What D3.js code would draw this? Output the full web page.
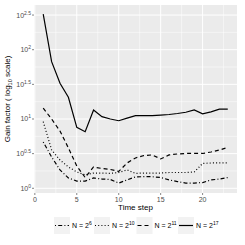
<!DOCTYPE html>
<html>
<head>
<meta charset="utf-8">
<script src="https://cdn.jsdelivr.net/npm/d3@7"></script>
<style>
  html, body { margin: 0; padding: 0; background: #fff; }
  svg { display: block; font-family: "Liberation Sans", Arial, sans-serif; }
</style>
</head>
<body>
<div id="chart"></div>
<script>
"use strict";

// time steps 1..23
const steps = d3.range(1, 24);

// gain factors (log scale)
const gainN6  = [4.66, 2.83, 1.84, 1.41, 1.27, 1.27, 1.41, 1.36, 1.34, 1.19, 1.32, 1.46,
                 1.47, 1.47, 1.43, 1.32, 1.25, 1.19, 1.19, 1.21, 1.32, 1.36, 1.43];
const gainN10 = [9.14, 3.57, 2.56, 2.03, 1.72, 1.56, 1.66, 1.66, 1.64, 1.69, 1.84, 1.64,
                 1.66, 1.66, 1.66, 1.69, 1.69, 1.69, 1.72, 2.28, 2.32, 2.32, 2.32];
const gainN11 = [14.3, 10.0, 6.7, 3.82, 2.10, 1.43, 2.03, 1.93, 1.87, 1.75, 2.32, 2.74,
                 2.97, 3.03, 2.65, 3.03, 3.13, 3.18, 3.18, 3.18, 3.34, 3.57, 3.88];
const gainN17 = [327, 67.1, 32.7, 20.6, 7.59, 6.56, 13.5, 10.8, 10.0, 9.44, 10.3, 11.2,
                 11.2, 11.2, 11.4, 11.6, 12.0, 12.5, 13.5, 11.9, 12.7, 13.9, 13.9];

const seriesExp  = ["6", "10", "11", "17"];
const seriesData = [gainN6, gainN10, gainN11, gainN17];
const dashes     = ["1,2.2,4,2.2", "1,2.2", "4,3", null];

const xTicks = [0, 5, 10, 15, 20];
const yTickExp = [0, 0.5, 1, 1.5, 2, 2.5];

const W = 245, H = 245;
const panel = { left: 34, right: 237, top: 5, bottom: 193 };

const x = d3.scaleLinear().domain([-0.1, 24.1]).range([panel.left, panel.right]);
const y = d3.scaleLog().domain([Math.pow(10, -0.068), Math.pow(10, 2.645)]).range([panel.bottom, panel.top]);

const svg = d3.select("#chart").append("svg")
  .attr("width", W).attr("height", H);

svg.append("rect")
  .attr("x", panel.left).attr("y", panel.top)
  .attr("width", panel.right - panel.left)
  .attr("height", panel.bottom - panel.top)
  .attr("fill", "#EBEBEB");

// minor grid
const grid = svg.append("g");
[2.5, 7.5, 12.5, 17.5, 22.5].forEach((v) => {
  grid.append("line")
    .attr("x1", x(v)).attr("x2", x(v))
    .attr("y1", panel.top).attr("y2", panel.bottom)
    .attr("stroke", "#fff").attr("stroke-width", 0.5);
});
[0.25, 0.75, 1.25, 1.75, 2.25].forEach((e) => {
  grid.append("line")
    .attr("x1", panel.left).attr("x2", panel.right)
    .attr("y1", y(Math.pow(10, e))).attr("y2", y(Math.pow(10, e)))
    .attr("stroke", "#fff").attr("stroke-width", 0.5);
});
// major grid
xTicks.forEach((v) => {
  grid.append("line")
    .attr("x1", x(v)).attr("x2", x(v))
    .attr("y1", panel.top).attr("y2", panel.bottom)
    .attr("stroke", "#fff").attr("stroke-width", 1);
});
yTickExp.forEach((e) => {
  grid.append("line")
    .attr("x1", panel.left).attr("x2", panel.right)
    .attr("y1", y(Math.pow(10, e))).attr("y2", y(Math.pow(10, e)))
    .attr("stroke", "#fff").attr("stroke-width", 1);
});

// lines
const line = d3.line().x((d, i) => x(steps[i])).y((d) => y(d));
seriesData.forEach((vals, i) => {
  svg.append("path")
    .attr("d", line(vals))
    .attr("fill", "none")
    .attr("stroke", "#000")
    .attr("stroke-width", 1.2)
    .attr("stroke-dasharray", dashes[i]);
});

// x axis
xTicks.forEach((v) => {
  svg.append("line")
    .attr("x1", x(v)).attr("x2", x(v))
    .attr("y1", panel.bottom).attr("y2", panel.bottom + 2)
    .attr("stroke", "#333").attr("stroke-width", 0.6);
  svg.append("text")
    .attr("x", x(v)).attr("y", panel.bottom + 9)
    .attr("text-anchor", "middle")
    .attr("font-size", 7).attr("fill", "#4D4D4D")
    .text(v);
});

// y axis
yTickExp.forEach((e) => {
  const yy = y(Math.pow(10, e));
  svg.append("line")
    .attr("x1", panel.left - 2).attr("x2", panel.left)
    .attr("y1", yy).attr("y2", yy)
    .attr("stroke", "#333").attr("stroke-width", 0.6);
  const t = svg.append("text")
    .attr("x", panel.left - 3).attr("y", yy + 2.5)
    .attr("text-anchor", "end")
    .attr("font-size", 7).attr("fill", "#4D4D4D");
  t.append("tspan").text("10");
  t.append("tspan").attr("dy", -3).attr("font-size", 5).text(String(e));
});

// axis titles
svg.append("text")
  .attr("x", (panel.left + panel.right) / 2).attr("y", panel.bottom + 17)
  .attr("text-anchor", "middle")
  .attr("font-size", 8).attr("fill", "#000")
  .text("Time step");

const yt = svg.append("text")
  .attr("transform", `translate(10,${(panel.top + panel.bottom) / 2}) rotate(-90)`)
  .attr("text-anchor", "middle")
  .attr("font-size", 8).attr("fill", "#000");
yt.append("tspan").text("Gain factor ( log");
yt.append("tspan").attr("dy", 2).attr("font-size", 5.5).text("10");
yt.append("tspan").attr("dy", -2).text(" scale)");

// legend
const keyW = 16, keyH = 17, legY = 217;
const keyX = [54, 94, 136.5, 178];
seriesExp.forEach((ex, i) => {
  const kx = keyX[i];
  svg.append("rect")
    .attr("x", kx).attr("y", legY)
    .attr("width", keyW).attr("height", keyH)
    .attr("fill", "#F2F2F2");
  svg.append("line")
    .attr("x1", kx + 1).attr("x2", kx + keyW - 1)
    .attr("y1", legY + keyH / 2).attr("y2", legY + keyH / 2)
    .attr("stroke", "#000").attr("stroke-width", 1.2)
    .attr("stroke-dasharray", dashes[i]);
  const t = svg.append("text")
    .attr("x", kx + keyW + 2).attr("y", legY + keyH / 2 + 2.5)
    .attr("font-size", 7).attr("fill", "#000");
  t.append("tspan").text("N = 2");
  t.append("tspan").attr("dy", -3).attr("font-size", 5).text(ex);
});
</script>
</body>
</html>
